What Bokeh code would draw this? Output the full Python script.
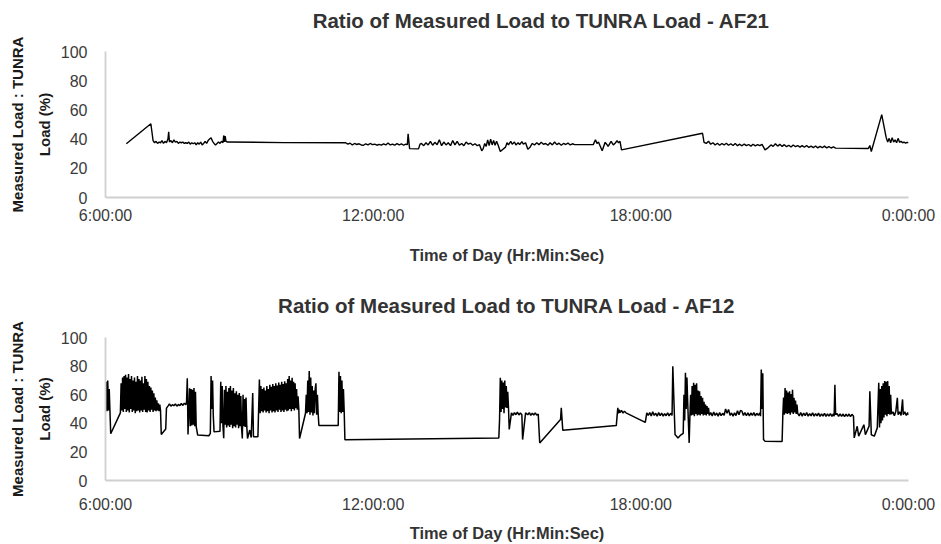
from bokeh.plotting import figure
from bokeh.models import Range1d, FixedTicker, Label
from bokeh.layouts import column
from bokeh.embed import file_html
from bokeh.resources import INLINE

# time of day in minutes after midnight (360 = 6:00:00, 1440 = 0:00:00)
x_ticks = [360, 720, 1080, 1440]
x_tick_labels = ["6:00:00", "12:00:00", "18:00:00", "0:00:00"]
y_ticks = [0, 20, 40, 60, 80, 100]

titles = ["Ratio of Measured Load to TUNRA Load - AF21",
          "Ratio of Measured Load to TUNRA Load - AF12"]
x_title = "Time of Day (Hr:Min:Sec)"
y_title = "Measured Load : TUNRA\nLoad (%)"

# ---- AF21 ----
af21_t = [
    388, 421, 424,
    426, 428, 430, 432, 434, 436, 438, 440, 442, 444, 445, 446, 448, 450, 452, 454, 456, 458, 460, 462,
    464, 466, 468, 470, 472, 474, 476, 478, 480, 482, 484, 486, 488, 490, 492, 494, 496, 498, 500, 502,
    504, 506, 508, 510, 512, 514, 516, 518, 519, 520, 521, 522, 524,
    600,
    683, 686, 689, 692, 695, 698, 701, 704, 707, 710, 713, 716, 719, 722, 725, 728, 731, 734, 737, 740,
    743, 746, 749, 752, 755, 758, 761, 764, 766,
    767, 769, 781, 783,
    785, 788, 791, 794, 797, 800, 803, 806, 809, 812, 815, 818, 821, 824, 827, 830, 833, 836, 839, 842,
    845, 848, 851, 854, 857, 860, 863,
    866, 868, 870, 872, 874, 876, 878, 880, 882, 884, 886, 888, 891, 898,
    900, 902, 905, 907, 910, 912, 915, 917, 920, 922, 925, 928, 931, 934,
    937, 940, 943, 946, 949, 952, 955, 958, 961, 964, 967, 970, 973, 976, 979, 982, 985, 988, 991, 1000, 1016,
    1019, 1021, 1023, 1028, 1032, 1034, 1036, 1040, 1043, 1046, 1048, 1050, 1052, 1054, 1163, 1165,
    1168, 1171, 1174, 1177, 1180, 1183, 1186, 1189, 1192, 1195, 1198, 1201, 1204, 1207, 1210, 1213, 1216,
    1219, 1222, 1225, 1228, 1231, 1234, 1237, 1240, 1243,
    1247, 1251, 1255,
    1258, 1261, 1264, 1267, 1270, 1273, 1276, 1279, 1282, 1285, 1288, 1291, 1294, 1297, 1300, 1303, 1306,
    1309, 1312, 1315, 1318, 1321, 1324, 1327, 1330, 1333, 1336, 1339, 1342,
    1386, 1388, 1390, 1404, 1410,
    1412, 1414, 1416, 1418, 1420, 1422, 1424, 1426, 1428, 1430, 1432, 1434, 1436, 1438, 1440,
]
af21_v = [
    36.8, 50.5, 39,
    37.5, 38.5, 37, 38, 37.5, 39, 37, 38.5, 37.5, 40, 45, 38, 39, 37.5, 39.5, 38, 38.5, 37, 38, 37.5,
    38, 37, 37.5, 37, 38, 36.5, 37.5, 36.8, 37.5, 36, 37.5, 36.5, 38, 36, 37, 38.5, 37, 39, 40, 41,
    38.5, 37, 36, 37, 38, 37, 38.5, 37.5, 42.5, 38, 42, 38.5, 38,
    37.6,
    37.5, 36.5, 37.2, 36, 37, 36.3, 36.8, 36, 35.8, 36.8, 36, 37, 36.2, 36.5, 35.8, 36.4, 35.9, 36.8, 36, 37.3,
    36, 36.5, 35.8, 36.9, 36, 36.7, 35.8, 36.5, 36.2,
    43.6, 33.5, 33.3, 36.5,
    37, 35.5, 37.5, 36, 38.5, 35.8, 37.8, 36.2, 39.5, 35.5, 38, 36, 37.5, 35.5, 39, 36, 38.5, 35.8, 37, 35.5,
    38, 36.5, 37.2, 35.8, 36.8, 35.5, 36.2,
    32, 33.5, 37, 35, 39.5, 35.5, 40, 36, 39, 35.8, 38.5, 36, 31.5, 34.5,
    37.5, 36, 38.5, 36.5, 38, 36, 37.5, 36.2, 38.2, 36.5, 37.5, 33, 34.5, 37,
    36, 37.5, 36.2, 37.8, 36.5, 37, 35.8, 37.5, 36, 38, 36.2, 37.2, 35.8, 37, 36.3, 37.3, 36, 36.8, 36.2, 36.2, 36.2,
    39.5, 37, 38, 32, 37.8, 36.5, 35, 38.5, 36, 37.5, 39, 37.5, 38.5, 32.6, 44, 37.8,
    37, 38.5, 36.5, 37.5, 36, 37.2, 35.8, 37, 36, 37.2, 35.8, 36.8, 35.6, 37, 35.5, 36.5, 35.4,
    36.6, 35.5, 36.3, 35.2, 36.5, 35.4, 36.2, 35.5, 36.4,
    32.6, 34, 36,
    35, 36.8, 35.2, 36.4, 35, 36.2, 34.8, 35.8, 34.6, 36, 34.8, 35.6, 34.5, 35.5, 34.4, 35.6, 34.3,
    35.2, 34.2, 35.3, 34, 35, 34.1, 35.2, 34, 34.8, 33.9, 34.6, 33.8,
    33.6, 35.6, 31.5, 56.8, 41,
    38, 40.5, 37.5, 41, 38, 39.5, 37.5, 40.5, 37.8, 38.5, 37.5, 38, 37.2, 37.8, 37.5,
]

# ---- AF12 ----
af12_t = [
    360, 361, 362, 363, 364, 365, 366, 367, 380,
    381, 382, 383, 384, 385, 386, 387, 388, 389, 390, 391, 392, 393, 394, 395, 396, 397, 398, 399, 400,
    401, 402, 403, 404, 405, 406, 407, 408, 409, 410, 411, 412, 413, 414, 415, 416, 417, 418, 419, 420,
    421, 422, 423, 424, 425, 426, 427, 428, 429, 430, 431, 432, 433, 434,
    435, 441, 442, 444, 446, 448, 450, 452, 454, 456, 458, 460, 462, 464, 466, 468, 469, 470, 471,
    473, 474, 475, 476, 477, 478, 479, 480, 481, 482, 484, 499,
    501, 502, 503, 504, 505, 506, 514,
    515, 516, 517, 518, 519, 520, 521, 522, 523, 524, 525, 526, 527, 528, 529, 530, 531, 532, 533, 534,
    535, 536, 537, 538, 539, 540, 541, 542, 543, 544, 545, 546, 547, 548, 549, 550,
    551, 554, 556, 558, 559, 565,
    567, 568, 569, 570, 571, 572, 573, 574, 575, 576, 577, 578, 579, 580, 581, 582, 583, 584, 585, 586,
    587, 588, 589, 590, 591, 592, 593, 594, 595, 596, 597, 598, 599, 600, 601, 602, 603, 604, 605, 606,
    607, 608, 609, 610, 611, 612, 613, 614, 615, 616, 617, 618, 619, 620,
    621, 629,
    630, 631, 632, 633, 634, 635, 636, 637, 638, 639, 640, 641, 642, 643, 644, 645, 646,
    647, 673, 674, 675, 676, 677, 678, 679, 680, 681, 682,
    889, 890, 891, 892, 893, 894, 895, 896, 897, 898, 899, 900, 901, 902, 903,
    906, 908, 910, 912, 914, 916, 918, 920, 921, 925, 928, 930, 932, 934, 936, 938, 940, 942, 944,
    972, 973, 975, 1047,
    1049, 1050, 1051, 1052, 1054, 1056, 1058, 1060, 1086, 1088,
    1090, 1092, 1094, 1096, 1098, 1100, 1102, 1104, 1106, 1108, 1110, 1112, 1114, 1116, 1118, 1120, 1122,
    1123, 1126, 1130, 1133, 1137, 1138, 1139, 1140, 1141, 1142, 1143, 1145,
    1146, 1147, 1148, 1149, 1150, 1151, 1152, 1153, 1154, 1155, 1156, 1157, 1158, 1159, 1160, 1161, 1162,
    1163, 1164, 1165, 1166, 1167, 1168, 1169, 1170, 1171, 1172,
    1174, 1176, 1178, 1180, 1182, 1184, 1186, 1188, 1190, 1192, 1194, 1196, 1198, 1200, 1202, 1204, 1206,
    1208, 1210, 1212, 1214, 1216, 1218, 1220, 1222, 1224, 1226, 1228, 1230, 1232, 1234, 1236, 1238, 1240, 1241,
    1242, 1243, 1244, 1245, 1247, 1270, 1271,
    1272, 1273, 1274, 1275, 1276, 1277, 1278, 1279, 1280, 1281, 1282, 1283, 1284, 1285, 1286, 1287, 1288,
    1289, 1290, 1291,
    1293, 1295, 1297, 1299, 1301, 1303, 1305, 1307, 1309, 1311, 1313, 1315, 1317, 1319, 1321, 1323, 1325,
    1327, 1329, 1331, 1333, 1335, 1337, 1339, 1340, 1341, 1342,
    1344, 1346, 1348, 1350, 1352, 1354, 1356, 1358, 1360, 1362, 1364, 1366,
    1367, 1371, 1373, 1380, 1382, 1387, 1388, 1390, 1394, 1398, 1400,
    1401, 1402, 1403, 1404, 1405, 1406, 1407, 1408, 1409, 1410, 1411, 1412, 1413, 1414, 1415, 1416, 1417,
    1419, 1421, 1423, 1425, 1426, 1428, 1430, 1432, 1433, 1435, 1437, 1439, 1440,
]
af12_v = [
    49, 69, 48.5, 70, 49, 64, 48.5, 32.7, 47.3,
    68, 49, 72, 48, 73, 50, 74, 48, 72, 49, 74.5, 47.5, 71, 50, 73, 48, 70, 49, 72, 47,
    69, 48.5, 73, 49, 71, 47.5, 70, 49, 72.5, 48, 68, 49.5, 73, 48, 71, 47.5, 69, 49, 66, 48,
    65, 49.5, 63, 48, 61, 49, 58, 48.5, 56, 49, 54, 48.5, 53, 49,
    32.2, 36, 50.6, 52, 53.5, 52, 53, 52.3, 53.5, 52, 53.2, 52.4, 53.8, 52.5, 54, 53, 55, 71.5, 32.2,
    64.5, 38, 64, 38.5, 63.5, 39, 64.7, 38, 62, 37.6, 31.8, 31.3,
    33, 73, 50, 70, 45, 34, 34.5,
    69, 40, 66, 38, 29.5, 63.5, 39, 66, 37, 62, 38.5, 64.7, 37.5, 66, 39, 63, 36.5, 64.7, 38, 61,
    37, 62.4, 39, 60, 36.5, 61.2, 38, 59, 37, 29.4, 60, 38, 57, 37.5, 58, 38,
    29.4, 35.3, 30, 61.2, 30.6, 30.6,
    70.6, 47, 66, 48.5, 64, 47.5, 65, 49, 63, 47.5, 66, 48.5, 64, 47, 67, 49, 65.5, 47.5, 67.5, 48.5,
    66, 47.5, 68, 49, 66.5, 48, 68.5, 49.5, 67, 48, 69, 49, 67.5, 48, 69.4, 49.5, 68, 48.5, 71, 49,
    73, 50, 70, 48.5, 71.8, 50, 69, 49, 68, 50.5, 64, 49.5, 58.8, 50,
    29.4, 47,
    60, 47, 70, 48, 76.5, 46, 72, 47.5, 66, 45.5, 63, 47, 64, 68, 46, 60, 47,
    38.5, 38.5, 76, 48, 73, 47, 70, 48, 64, 49, 28.5,
    29.8, 42.6, 71.8, 48, 70, 50, 68.5, 47, 70, 51, 66, 50.8, 62, 51, 35.7,
    47.3, 45.5, 47.5, 46, 47.8, 45.8, 47.2, 46, 28.6, 47.3, 46, 47.5, 45.5, 47, 45.8, 47.3, 45.7, 46.5, 26.3,
    42.6, 50.8, 35.2, 38.4,
    50.8, 47, 49.5, 47.5, 49, 47.2, 48.5, 47.3, 40.6, 47.3,
    45.5, 47.5, 45.2, 48, 45.5, 47, 45, 47.5, 45.3, 47.2, 45, 46.8, 45.3, 47.4, 45.2, 47, 45.5,
    79.8, 32.2, 29.8, 31.5, 33, 60, 42, 75.4, 50, 72, 55, 26.3,
    45, 60, 45.5, 66, 46, 68.3, 45, 67, 46.5, 68, 45.5, 63, 46, 62.4, 45.5, 59, 46.5,
    57.8, 45.5, 55, 46, 53.1, 45.5, 52, 46.5, 50.8, 45.5,
    47.5, 45.2, 47.8, 45.5, 47.2, 45, 47.5, 45.3, 47, 45.5, 50, 47, 49.7, 45.5, 47.2, 45, 47.3,
    45.4, 48.8, 46, 49, 48.5, 45.5, 47.5, 45.3, 47.4, 45.2, 47.2, 45.5, 47.5, 45.2, 47, 45.5, 47.2, 45,
    77.6, 50, 75, 28.6, 27.5, 27.3, 46.2,
    58, 46, 64.7, 47, 63, 46.5, 61.5, 47, 62.4, 46, 60.5, 47.5, 63.5, 46.5, 57.8, 47.5, 56,
    46.5, 53.1, 47,
    45.2, 47.5, 45, 47.2, 45.3, 47.5, 45, 46.8, 45.2, 47.4, 45, 46.8, 45.2, 47.1, 44.8, 46.6, 45,
    47, 44.9, 46.5, 45, 46.8, 44.8, 46.5, 45, 67, 46,
    46.8, 44.8, 46.6, 44.9, 46.5, 44.7, 46.4, 44.8, 46.5, 44.6, 46.3, 45,
    29.8, 37.9, 31, 39, 32, 38, 62.4, 32, 31, 36.8, 68.3,
    37, 64, 40, 66, 42, 68, 44, 69.5, 46, 69, 45, 69.5, 46.5, 66, 46, 60, 46.5,
    48, 45.3, 48.5, 57.8, 46, 48, 45.5, 56.7, 46, 48, 45.5, 47.5, 45.8,
]

assert len(af21_t) == len(af21_v), (len(af21_t), len(af21_v))
assert len(af12_t) == len(af12_v), (len(af12_t), len(af12_v))

FONT = "Liberation Sans"
TITLE_H = 33


def title_strip(text):
    # a bare strip that only carries the first chart's title
    t = figure(width=941, height=TITLE_H, output_backend="svg", toolbar_location=None,
               x_range=Range1d(0, 941), y_range=Range1d(0, TITLE_H),
               x_axis_location=None, y_axis_location=None,
               min_border=0, min_border_left=0, min_border_right=0,
               min_border_top=0, min_border_bottom=0)
    t.xgrid.visible = False
    t.ygrid.visible = False
    t.outline_line_color = None
    t.background_fill_color = "white"
    t.border_fill_color = "white"
    t.add_layout(Label(x=511, y=TITLE_H - 20, text=text, text_align="center",
                       text_baseline="middle", text_font=FONT, text_font_size="20.5px",
                       text_font_style="bold", text_color="#333333"))
    return t


def make(title_text, t, v, height, border_top, border_bottom, title_standoff,
         tick_standoff, label_standoff, lw):
    p = figure(width=941, height=height, output_backend="svg", toolbar_location=None,
               x_range=Range1d(360, 1440), y_range=Range1d(0, 100),
               min_border_left=105, min_border_right=33,
               min_border_top=border_top, min_border_bottom=border_bottom,
               title=title_text)
    p.line(t, v, line_color="black", line_width=lw)
    p.xgrid.visible = False
    p.ygrid.visible = False
    p.outline_line_color = None
    p.background_fill_color = "white"
    p.border_fill_color = "white"

    if title_text is not None:
        p.title.text_font = FONT
        p.title.text_font_size = "20.5px"
        p.title.text_font_style = "bold"
        p.title.text_color = "#333333"
        p.title.align = "center"
        p.title.vertical_align = "top"
        p.title.standoff = title_standoff

    p.xaxis.ticker = FixedTicker(ticks=x_ticks)
    p.xaxis.major_label_overrides = {k: s for k, s in zip(x_ticks, x_tick_labels)}
    p.yaxis.ticker = FixedTicker(ticks=y_ticks)
    for ax in (p.xaxis[0], p.yaxis[0]):
        ax.major_tick_out = 0
        ax.major_tick_in = 0
        ax.minor_tick_out = 0
        ax.minor_tick_in = 0
        ax.axis_line_color = "#d0d0d0"
        ax.axis_line_width = 1.8
        ax.major_label_text_font = FONT
        ax.major_label_text_font_size = "16px"
        ax.major_label_text_color = "#3a3a3a"
        ax.axis_label_text_font = FONT
        ax.axis_label_text_font_style = "bold"
    p.xaxis.axis_label = x_title
    p.xaxis.axis_label_text_font_size = "16.4px"
    p.xaxis.axis_label_text_color = "#333333"
    p.xaxis.major_label_standoff = tick_standoff
    p.xaxis.axis_label_standoff = label_standoff
    p.yaxis.axis_label = y_title
    p.yaxis.axis_label_text_font_size = "15px"
    p.yaxis.axis_label_text_color = "#1a1a1a"
    p.yaxis.axis_label_text_line_height = 1.55
    p.yaxis.major_label_standoff = 18
    p.yaxis.axis_label_standoff = 5
    return p


p0 = title_strip(titles[0])
p1 = make(None, af21_t, af21_v, 272 - TITLE_H, 51 - TITLE_H, 75, 0, 9, 19, 1.4)
p2 = make(titles[1], af12_t, af12_v, 272, 65, 63, 38, 15, 8, 1.5)

layout = column(p0, p1, p2, spacing=0)
open("out.html", "w").write(file_html(layout, INLINE))
